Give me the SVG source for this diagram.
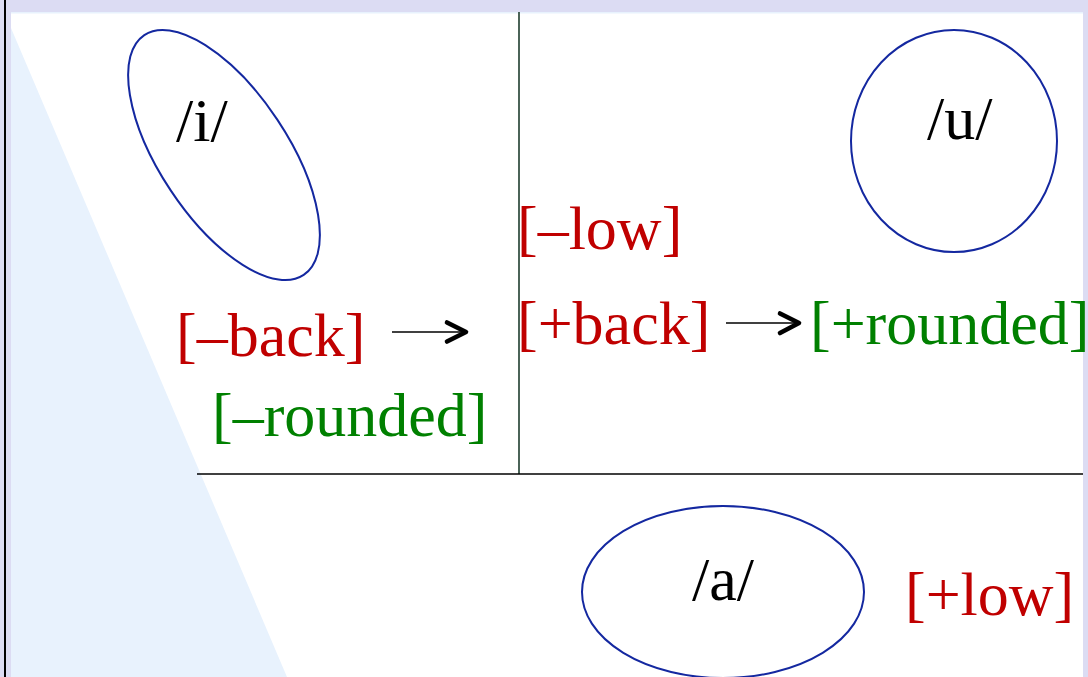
<svg xmlns="http://www.w3.org/2000/svg" width="1088" height="677" viewBox="0 0 1088 677">
<style>
text{font-family:"Liberation Serif","Times New Roman",serif;font-size:62px}
.blk{fill:#000}
.red{fill:#c00000}
.grn{fill:#008000}
.vow{fill:none;stroke:#1428a0;stroke-width:2}
.shaft{stroke:#000;stroke-width:1.6;fill:none}
.head{stroke:#000;stroke-width:4.6;fill:none;stroke-linecap:round;stroke-linejoin:round}
</style>
<g id="background">
<rect x="0" y="0" width="1088" height="677" fill="#dcdcf3"/>
<rect x="11" y="12" width="1072" height="665" fill="#ffffff"/>
<rect x="11" y="12" width="1072" height="1.5" fill="#e8f2fd"/>
<polygon points="11,28 287,677 11,677" fill="#e8f2fd"/>
<rect x="4" y="0" width="2" height="677" fill="#000"/>
<line x1="519" y1="12" x2="519" y2="474" stroke="#1e3d2e" stroke-width="1.6"/>
<line x1="197" y1="474" x2="1083" y2="474" stroke="#000" stroke-width="1.6"/>
</g>
<g id="vowel-i">
<ellipse class="vow" cx="224" cy="155" rx="64" ry="144" transform="rotate(-33.6 224 155)"/>
<text class="blk" x="176" y="141">/i/</text>
</g>
<g id="vowel-u">
<ellipse class="vow" cx="954" cy="141" rx="103" ry="111"/>
<text class="blk" x="927" y="139">/u/</text>
</g>
<g id="vowel-a">
<ellipse class="vow" cx="723" cy="592" rx="141" ry="86"/>
<text class="blk" x="692" y="600">/a/</text>
</g>
<g id="label-minus-back">
<text class="red" x="176" y="356">[–back]</text>
</g>
<g id="label-minus-rounded">
<text class="grn" x="212" y="436">[–rounded]</text>
</g>
<g id="label-minus-low">
<text class="red" x="517" y="249">[–low]</text>
</g>
<g id="label-plus-back">
<text class="red" x="517" y="344">[+back]</text>
</g>
<g id="label-plus-rounded">
<text class="grn" x="810" y="344">[+rounded]</text>
</g>
<g id="label-plus-low">
<text class="red" x="905" y="615">[+low]</text>
</g>
<g id="connectors">
<line class="shaft" x1="392" y1="332" x2="465" y2="332"/>
<polyline class="head" points="447,322.5 466,332 447,341.5"/>
<line class="shaft" x1="726" y1="323" x2="798" y2="323"/>
<polyline class="head" points="780,313.5 799,323 780,333"/>
</g>
</svg>
